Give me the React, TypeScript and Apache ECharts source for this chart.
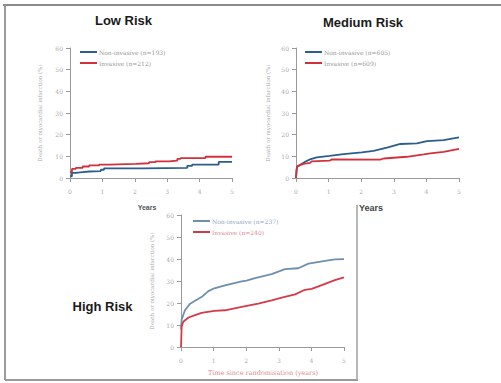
import React, { useEffect, useRef } from "react";
import * as echarts from "echarts";

const xTicks = ["0", "1", "2", "3", "4", "5"];
const yLabel = "Death or myocardial infarction (%)";

const lowNonInvasive: [number, number][] = [
  [0, 0.8], [0.06, 2.4], [0.18, 2.7], [0.39, 3.0], [0.6, 3.2], [0.95, 3.8], [1.05, 4.4],
  [2.23, 4.7], [3.62, 5.6], [3.77, 6.2], [4.59, 7.4], [5, 7.4],
];
const lowInvasive: [number, number][] = [
  [0, 2.7], [0.06, 4.2], [0.18, 4.7], [0.39, 5.3], [0.59, 5.8], [0.9, 6.2], [1.21, 6.5],
  [2.03, 6.8], [2.44, 7.3], [2.64, 7.7], [3.05, 8.0], [3.31, 8.8], [3.41, 9.2], [4.18, 9.8], [5, 9.8],
];
const medNonInvasive: [number, number][] = [
  [0, 0], [0.02, 4.0], [0.04, 5.2], [0.12, 6.0], [0.28, 7.5], [0.43, 8.6], [0.64, 9.5], [1.03, 10.2],
  [1.46, 11.0], [2.02, 11.8], [2.38, 12.5], [2.79, 14.0], [3.2, 15.7], [3.71, 16.0], [4.02, 17.0],
  [4.53, 17.5], [5, 18.8],
];
const medInvasive: [number, number][] = [
  [0, 0], [0.02, 4.0], [0.04, 5.5], [0.23, 6.5], [0.43, 7.0], [0.48, 7.7], [1.03, 8.0], [1.1, 8.6],
  [2.58, 8.5], [2.69, 9.0], [3.4, 9.8], [3.92, 10.9], [4.12, 11.4], [4.53, 12.1], [5, 13.4],
];
const highNonInvasive: [number, number][] = [
  [0, 8], [0.02, 12.5], [0.05, 13.7], [0.12, 16.7], [0.28, 19.7], [0.43, 21.0], [0.63, 22.7],
  [0.84, 25.4], [1.02, 26.7], [1.35, 28.0], [1.86, 29.8], [2.01, 30.2], [2.27, 31.3], [2.78, 33.1],
  [3.19, 35.4], [3.6, 35.8], [3.91, 37.9], [4.42, 39.1], [4.72, 39.8], [5, 39.9],
];
const highInvasive: [number, number][] = [
  [0, 0], [0.02, 9.3], [0.07, 11.5], [0.23, 13.4], [0.43, 14.5], [0.63, 15.5], [1.02, 16.4],
  [1.35, 16.7], [1.86, 18.2], [2.37, 19.7], [2.78, 21.2], [3.09, 22.4], [3.5, 23.9], [3.8, 26.0],
  [4.01, 26.4], [4.42, 28.7], [4.72, 30.4], [5, 31.6],
];

const names = {
  lowN: "Non-invasive (n=193)",
  lowI: "Invasive (n=212)",
  medN: "Non-invasive (n=605)",
  medI: "Invasive (n=609)",
  highN: "Non-invasive (n=237)",
  highI: "Invasive (n=240)",
};

const BLUE = "#2c5d8f";
const RED = "#d3303c";
const BLUE_H = "#6f8fae";
const RED_H = "#d63a48";
const AXIS = "#9a9a9a";

function xAxis(gridIndex: number) {
  return {
    type: "value",
    gridIndex,
    min: 0,
    max: 5,
    interval: 1,
    axisLine: { show: true, onZero: false, lineStyle: { color: AXIS, width: 1 } },
    axisTick: { show: true, length: 4, lineStyle: { color: AXIS } },
    axisLabel: { fontSize: 6, color: "#aaa", margin: 10, fontFamily: "DejaVu Serif", formatter: (v: number) => xTicks[v] },
    splitLine: { show: false },
  };
}
function yAxis(gridIndex: number, gap: number) {
  return {
    type: "value",
    gridIndex,
    min: 0,
    max: 60,
    interval: 10,
    name: yLabel,
    nameLocation: "middle",
    nameRotate: 90,
    nameGap: gap,
    nameTextStyle: { fontSize: 5.5, color: "#aaa", fontFamily: "DejaVu Serif" },
    axisLine: { show: true, lineStyle: { color: AXIS, width: 1 } },
    axisTick: { show: true, length: 4, lineStyle: { color: AXIS } },
    axisLabel: { fontSize: 6, color: "#aaa", margin: 7, fontFamily: "DejaVu Serif" },
    splitLine: { show: false },
  };
}
function line(name: string, data: [number, number][], idx: number, color: string, step: boolean) {
  return {
    type: "line",
    name,
    xAxisIndex: idx,
    yAxisIndex: idx,
    data,
    step: step ? "end" : false,
    showSymbol: false,
    symbol: "none",
    lineStyle: { color, width: 1.8 },
    itemStyle: { color },
  };
}
function legend(names2: string[], left: number, top: number, textColors?: string[]) {
  return {
    orient: "vertical",
    left,
    top,
    itemWidth: 17,
    itemHeight: 2,
    itemGap: 5,
    icon: "rect",
    data: names2.map((n, i) => ({
      name: n,
      textStyle: { color: textColors ? textColors[i] : "#999" },
    })),
    textStyle: { fontSize: 6, fontFamily: "DejaVu Serif", padding: [0, 0, 0, -3] },
    padding: 0,
  };
}

export default function App() {
  const ref = useRef<HTMLDivElement>(null);
  useEffect(() => {
    if (!ref.current) return;
    const chart = echarts.init(ref.current, undefined, { renderer: "svg" });
    const titleStyle = { fontSize: 13, fontWeight: "bold", fill: "#1a1a1a", fontFamily: "Liberation Sans", textAlign: "center", textVerticalAlign: "middle" };
    chart.setOption({
      animation: false,
      backgroundColor: "#ffffff",
      grid: [
        { left: 70, top: 48, width: 162, height: 130 },
        { left: 296, top: 48, width: 163, height: 130 },
        { left: 181, top: 215, width: 163, height: 132 },
      ],
      xAxis: [xAxis(0), xAxis(1), xAxis(2)],
      yAxis: [yAxis(0, 27), yAxis(1, 25), yAxis(2, 26)],
      legend: [
        legend([names.lowN, names.lowI], 80, 49),
        legend([names.medN, names.medI], 305, 49),
        legend([names.highN, names.highI], 193, 218, ["#8fa9c4", "#e08a92"]),
      ],
      series: [
        line(names.lowN, lowNonInvasive, 0, BLUE, true),
        line(names.lowI, lowInvasive, 0, RED, true),
        line(names.medN, medNonInvasive, 1, BLUE, false),
        line(names.medI, medInvasive, 1, RED, false),
        line(names.highN, highNonInvasive, 2, BLUE_H, false),
        line(names.highI, highInvasive, 2, RED_H, false),
      ],
      graphic: [
        { type: "line", shape: { x1: 3, y1: 5, x2: 501, y2: 5 }, style: { stroke: "#8a8a8a", lineWidth: 2 } },
        { type: "line", shape: { x1: 5, y1: 5, x2: 5, y2: 380 }, style: { stroke: "#9a9a9a", lineWidth: 2 } },
        { type: "line", shape: { x1: 5, y1: 380, x2: 358, y2: 380 }, style: { stroke: "#9a9a9a", lineWidth: 2 } },
        { type: "line", shape: { x1: 357, y1: 205, x2: 357, y2: 380 }, style: { stroke: "#a0a0a0", lineWidth: 1.5 } },
        { type: "text", x: 123.5, y: 20.5, style: { ...titleStyle, text: "Low Risk" } },
        { type: "text", x: 363, y: 22, style: { ...titleStyle, text: "Medium Risk" } },
        { type: "text", x: 102.5, y: 306, style: { ...titleStyle, text: "High Risk" } },
        { type: "text", x: 147, y: 207, style: { text: "Years", fontSize: 7, fontWeight: "bold", fill: "#555", fontFamily: "Liberation Sans", textAlign: "center", textVerticalAlign: "middle" } },
        { type: "text", x: 371, y: 208, style: { text: "Years", fontSize: 9, fontWeight: "bold", fill: "#444", fontFamily: "Liberation Sans", textAlign: "center", textVerticalAlign: "middle" } },
        { type: "text", x: 263, y: 373, style: { text: "Time since randomisation (years)", fontSize: 6.5, fill: "#e08a8a", fontFamily: "DejaVu Serif", textAlign: "center", textVerticalAlign: "middle" } },
      ],
    });
    return () => chart.dispose();
  }, []);
  return <div ref={ref} style={{ position: "fixed", left: 0, top: 0, width: 501, height: 383 }} />;
}
